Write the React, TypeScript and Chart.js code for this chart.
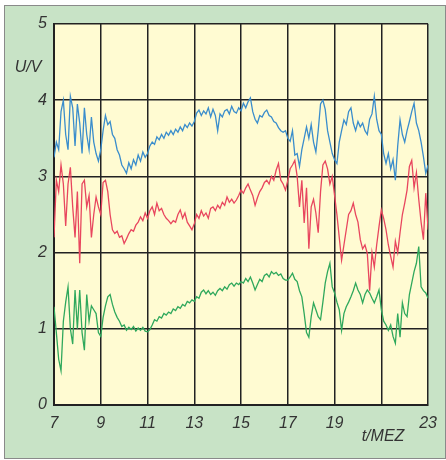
import React, { useEffect, useRef } from "react";
import { Chart, registerables } from "chart.js";

Chart.register(...registerables);

// Time axis: first sample at 7 h, one sample every 0.1 h, up to 23 h
const T_START = 7;
const T_STEP = 0.1;
const X_TICKS = [7, 9, 11, 13, 15, 17, 19, 21, 23];
const X_LABELS_SHOWN = ["7", "9", "11", "13", "15", "17", "19", "", "23"];
const Y_TICKS = [0, 1, 2, 3, 4, 5];

const blueValues = [
  3.25, 3.45, 3.35, 3.85, 4.0, 3.55, 3.35, 4.05, 3.9, 3.4,
  3.95, 3.7, 3.3, 3.9, 3.55, 3.35, 3.78, 3.45, 3.3, 3.2,
  3.35, 3.6, 3.8, 3.68, 3.72, 3.55, 3.5, 3.35, 3.28, 3.15,
  3.1, 3.04, 3.18, 3.1, 3.22, 3.15, 3.28, 3.2, 3.32, 3.25,
  3.3, 3.4, 3.45, 3.42, 3.52, 3.48, 3.55, 3.5, 3.58, 3.54,
  3.6, 3.55, 3.62, 3.58, 3.65, 3.6, 3.68, 3.64, 3.7, 3.66,
  3.72, 3.83, 3.87, 3.8, 3.86, 3.82, 3.9, 3.78, 3.88, 3.8,
  3.6, 3.82, 3.78, 3.86, 3.88, 3.82, 3.92, 3.85, 3.83, 3.9,
  3.86, 3.96, 3.9, 3.98, 4.03, 3.85, 3.75, 3.7, 3.8, 3.78,
  3.84, 3.87, 3.8, 3.78, 3.72, 3.7, 3.64, 3.6, 3.58, 3.6,
  3.5, 3.46, 3.6, 3.28, 3.3, 3.13, 3.35, 3.5, 3.65, 3.5,
  3.68, 3.45, 3.32, 3.6, 3.95, 4.0, 3.88, 3.6, 3.45, 3.3,
  3.22, 3.17, 3.45, 3.6, 3.74, 3.68, 3.85, 3.9, 3.7, 3.6,
  3.72, 3.65, 3.7, 3.6, 3.55, 3.75, 3.82, 4.05, 3.75, 3.6,
  3.55, 3.3, 3.17, 3.3, 3.1, 3.22, 2.95, 3.4, 3.74, 3.55,
  3.45, 3.6, 3.72, 3.85, 3.96, 3.7, 3.6, 3.45, 3.26, 3.04,
  3.15,
];

const redValues = [
  2.2, 2.95, 2.8, 3.15, 2.9, 2.35, 2.9, 3.12, 2.6, 2.2,
  2.8, 1.86, 2.9, 2.95, 2.6, 2.75, 2.2, 2.5, 2.73, 2.6,
  2.5, 2.92, 2.95, 2.8, 2.5, 2.3, 2.25, 2.28, 2.2, 2.22,
  2.12, 2.18, 2.25, 2.3, 2.28, 2.36, 2.4, 2.47, 2.42, 2.52,
  2.45, 2.55, 2.6, 2.5, 2.65, 2.55, 2.58, 2.5, 2.45, 2.42,
  2.38, 2.42, 2.4, 2.5, 2.56, 2.45, 2.52, 2.4, 2.35, 2.3,
  2.38, 2.5, 2.45, 2.55, 2.48, 2.52, 2.45, 2.58, 2.6, 2.55,
  2.62, 2.58, 2.66, 2.62, 2.73, 2.66, 2.7, 2.65, 2.69, 2.75,
  2.82, 2.78, 2.85, 2.9, 2.82, 2.75, 2.62, 2.72, 2.8, 2.85,
  2.92, 2.95, 2.9, 3.0, 2.95, 3.08, 3.17, 2.95, 2.9, 2.82,
  2.95, 3.1, 3.15, 3.21, 3.0, 2.6, 2.95, 2.39, 2.85, 2.05,
  2.6, 2.7, 2.52, 2.26, 2.8, 3.15, 3.2, 3.1, 2.9, 3.0,
  2.75, 2.5, 2.2, 1.9, 2.1, 2.3, 2.5, 2.55, 2.65, 2.5,
  2.4, 2.17, 2.05, 2.1, 1.99, 1.5, 2.0, 1.81, 2.1, 2.34,
  2.56, 2.45, 2.3, 2.1, 1.95, 1.81, 2.15, 2.0, 2.26, 2.5,
  2.65, 2.82, 3.13, 3.21, 2.85, 3.05, 2.7, 2.4, 2.17, 2.78,
  2.3,
];

const greenValues = [
  1.29, 0.95, 0.6, 0.45, 1.1, 1.35, 1.55, 1.0, 0.8, 1.51,
  1.0, 1.51, 0.95, 0.72, 1.45, 1.1, 1.3, 1.25, 1.2, 0.95,
  0.9, 1.15, 1.3, 1.42, 1.45, 1.32, 1.22, 1.15, 1.1, 1.03,
  1.05, 0.98, 1.02, 0.99, 1.03, 0.97, 1.01, 0.98, 1.02, 0.97,
  0.96, 0.99, 1.05, 1.12, 1.1, 1.16, 1.14, 1.2, 1.18, 1.22,
  1.2, 1.26, 1.24, 1.29, 1.27, 1.32, 1.3, 1.36, 1.34, 1.38,
  1.36, 1.42, 1.4, 1.48, 1.51, 1.46, 1.5, 1.45, 1.48, 1.44,
  1.5, 1.53, 1.5, 1.55, 1.52, 1.58, 1.6, 1.56, 1.6, 1.58,
  1.62, 1.6, 1.66, 1.62, 1.68, 1.6, 1.51, 1.58, 1.65, 1.62,
  1.7, 1.72, 1.68, 1.75, 1.72, 1.74, 1.7, 1.72, 1.66, 1.64,
  1.64, 1.68, 1.73, 1.65, 1.62, 1.5, 1.42, 1.2, 0.95, 0.89,
  1.16, 1.34, 1.25, 1.16, 1.12, 1.35, 1.6, 1.75, 1.86, 1.55,
  1.47, 1.35, 1.25, 0.98, 1.2, 1.29, 1.35, 1.42, 1.5, 1.6,
  1.51, 1.45, 1.34, 1.45, 1.51, 1.47, 1.4, 1.34, 1.42, 1.51,
  1.25, 1.1, 1.05, 0.98, 1.05, 0.9, 0.81, 1.2, 0.89, 1.34,
  1.2, 1.16, 1.45, 1.6, 1.75, 1.86, 2.08, 1.55, 1.5, 1.47,
  1.4,
];

const toPoints = (vals: number[]) =>
  vals.map((v, i) => ({ x: T_START + i * T_STEP, y: v }));

const FONT = "'Liberation Sans', Arial, sans-serif";

const plotBg = {
  id: "plotBg",
  beforeDraw(chart: any) {
    const { ctx, chartArea } = chart;
    ctx.save();
    ctx.fillStyle = "#fffbd2";
    ctx.fillRect(chartArea.left, chartArea.top, chartArea.right - chartArea.left, chartArea.bottom - chartArea.top);
    ctx.restore();
  },
  afterDraw(chart: any) {
    const { ctx } = chart;
    ctx.save();
    ctx.fillStyle = "#333333";
    ctx.font = `italic 16px ${FONT}`;
    ctx.textAlign = "center";
    ctx.textBaseline = "middle";
    ctx.fillText("U/V", 28, 68);
    ctx.fillText("t/MEZ", 383, 437);
    ctx.restore();
  },
};

export default function App() {
  const ref = useRef<HTMLCanvasElement | null>(null);

  useEffect(() => {
    if (!ref.current) return;
    const chart = new Chart(ref.current, {
      type: "line",
      data: {
        datasets: [
          { data: toPoints(blueValues), borderColor: "#3a8dcc", borderWidth: 1.3, pointRadius: 0, tension: 0 },
          { data: toPoints(redValues), borderColor: "#e8465e", borderWidth: 1.3, pointRadius: 0, tension: 0 },
          { data: toPoints(greenValues), borderColor: "#2fa85c", borderWidth: 1.3, pointRadius: 0, tension: 0 },
        ],
      },
      options: {
        animation: false,
        responsive: false,
        maintainAspectRatio: false,
        layout: { padding: { left: 0, top: 24, right: 13, bottom: 0 } },
        plugins: { legend: { display: false }, tooltip: { enabled: false } },
        scales: {
          x: {
            type: "linear",
            min: 7,
            max: 23,
            afterBuildTicks: (s: any) => {
              s.ticks = X_TICKS.map((v) => ({ value: v }));
            },
            afterFit: (s: any) => {
              s.height = 55;
            },
            ticks: {
              padding: 9,
              color: "#333333",
              font: { family: FONT, size: 16, style: "italic" },
              maxRotation: 0,
              autoSkip: false,
              callback: (v: any) => X_LABELS_SHOWN[X_TICKS.indexOf(Number(v))] ?? "",
            },
            grid: { color: "#222222", lineWidth: 1.5, drawTicks: false },
            border: { color: "#222222", width: 2 },
          },
          y: {
            type: "linear",
            min: 0,
            max: 5,
            afterBuildTicks: (s: any) => {
              s.ticks = Y_TICKS.map((v) => ({ value: v }));
            },
            afterFit: (s: any) => {
              s.width = 54;
            },
            ticks: {
              padding: 7,
              color: "#333333",
              font: { family: FONT, size: 16, style: "italic" },
            },
            grid: { color: "#222222", lineWidth: 1.5, drawTicks: false },
            border: { color: "#222222", width: 2 },
          },
        },
      },
      plugins: [plotBg],
    });
    return () => chart.destroy();
  }, []);

  return (
    <div style={{ position: "absolute", left: 0, top: 0, width: 446, height: 460, background: "#ffffff" }}>
      <div
        style={{
          position: "absolute",
          left: 4,
          top: 5,
          width: 440,
          height: 452,
          border: "1px solid #8a8a8a",
          background: "#c8e3c6",
        }}
      />
      <canvas ref={ref} width={446} height={460} style={{ position: "absolute", left: 0, top: 0 }} />
    </div>
  );
}
